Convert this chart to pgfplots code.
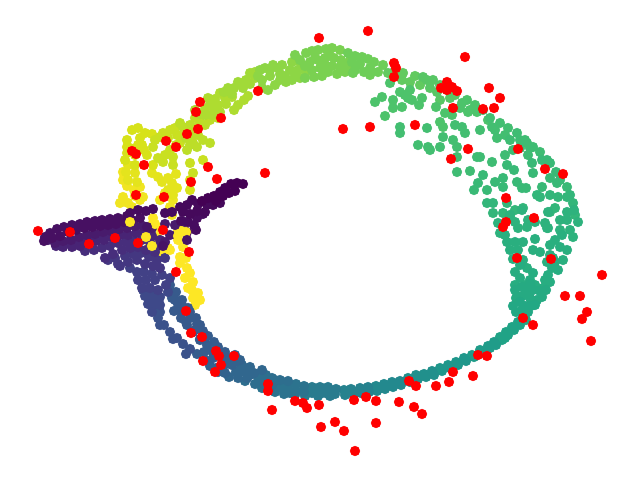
\documentclass[border=0pt]{standalone}
\usepackage{pgfplots}
\pgfplotsset{compat=1.18}
\pgfplotsset{dots/.style={scatter, only marks, mark=*, mark size=4.9pt, line width=0.4pt,
    scatter/use mapped color={draw=mapped color, fill=mapped color}, point meta=#1}}
\begin{document}
\begin{tikzpicture}
\path[use as bounding box] (0,0) rectangle (640pt,482pt);
\begin{axis}[
    anchor=south west, at={(0,0)},
    scale only axis, width=640pt, height=482pt,
    xmin=0, xmax=640, ymin=0, ymax=482, y dir=reverse,
    hide axis, clip=false,
    colormap/viridis, point meta min=0, point meta max=1,
]
% arc, coloured by position (pixel coordinates)
\addplot[dots=1.0] coordinates {(153,223)(153,218)(157,237)(150,245)(163,253)(168,248)(138,222)(145,228)(160,228)(177,233)(183,227)(178,240)(183,247)(180,257)(186,258)(180,263)(187,268)(190,273)(185,278)(193,282)(198,293)(193,298)(188,288)(200,300)(195,305)(192,290)(160,243)};
\addplot[dots=0.98] coordinates {(165,193)(160,200)(173,200)(170,207)(172,215)(123,172)(123,180)(127,186)(134,190)(140,187)(135,196)(123,197)(120,203)(128,203)(140,200)(143,197)(132,207)};
\addplot[dots=0.96] coordinates {(177,188)(173,195)(168,190)(158,177)(162,182)(152,173)(128,165)(135,173)(126,172)(128,180)(137,182)};
\addplot[dots=0.94] coordinates {(127,140)(132,130)(138,128)(145,133)(140,138)(152,134)(130,148)(138,145)(127,153)(135,155)(142,145)(125,160)(135,165)(147,155)(190,180)(190,190)(153,165)(127,147)(144,150)};
\addplot[dots=0.92] coordinates {(175,128)(170,130)(163,133)(177,135)(183,135)(168,138)(160,137)(155,140)(176,145)(170,150)(173,157)(180,143)(163,162)(173,165)(153,147)(165,155)(190,163)(193,173)(203,160)(158,158)};
\addplot[dots=0.90] coordinates {(195,118)(200,122)(190,125)(195,128)(187,130)(192,135)(198,135)(205,125)(210,120)(218,118)(183,127)(186,138)(203,140)(190,145)(210,143)(197,147)(180,123)(187,150)(193,143)};
\addplot[dots=0.88] coordinates {(232,97)(248,96)(244,100)(238,105)(220,93)(215,99)(210,104)(205,109)(218,105)(214,110)(226,104)(220,112)(234,110)(205,115)(212,115)(200,114)(225,98)(208,98)(195,110)};
\addplot[dots=0.86] coordinates {(250,73)(255,78)(246,80)(240,83)(234,88)(228,88)(238,82)(224,92)(250,84)(243,88)(232,94)(255,72)};
\addplot[dots=0.83] coordinates {(300,62)(292,62)(298,70)(306,72)(290,70)(282,65)(273,65)(265,68)(280,74)(286,82)(292,80)(275,85)(268,90)(260,70)(270,70)(262,88)(280,80)(300,78)(258,76)(278,68)(270,76)(285,76)(295,75)(262,80)};
\addplot[dots=0.80] coordinates {(340,50)(332,48)(326,49)(318,50)(312,51)(306,53)(341,60)(334,58)(325,58)(318,60)(310,62)(345,72)(337,74)(328,72)(322,76)(314,77)(305,78)(332,66)(312,70)(350,70)(295,55)(300,60)(320,68)(340,67)(350,60)(330,56)(305,66)(315,58)(345,65)(325,65)};
\addplot[dots=0.78] coordinates {(383,65)(378,72)(374,62)(368,59)(370,68)(362,57)(364,72)(355,56)(358,65)(348,53)(352,62)(353,73)(370,75)(360,64)(355,70)};
\addplot[dots=0.76] coordinates {(415,76)(410,82)(403,73)(396,76)(395,70)(388,73)(420,85)(402,80)};
\addplot[dots=0.74] coordinates {(447,90)(455,95)(440,85)(450,98)(433,80)(427,80)(437,92)(440,100)(423,77)(430,88)};
\addplot[dots=0.72] coordinates {(475,105)(467,100)(477,112)(470,110)(460,108)(462,103)(445,113)(440,122)(443,127)(436,107)(452,115)(422,98)(419,105)(385,116)(375,102)(382,97)(393,108)(393,100)(402,107)(400,92)(408,98)(410,90)(412,100)(390,83)(405,95)(468,112)(488,120)};
\addplot[dots=0.70] coordinates {(500,123)(508,128)(495,130)(505,135)(497,138)(490,118)(483,110)(492,127)(480,130)(465,133)(462,127)(455,125)(443,137)(440,147)(453,140)(457,147)(457,157)(418,145)(428,147)(430,150)(400,127)(400,133)(427,128)};
\addplot[dots=0.69] coordinates {(533,147)(540,152)(527,143)(517,133)(525,140)(505,155)(513,150)(520,148)(457,172)(470,171)(477,157)(480,157)(492,162)(528,155)(530,148)(510,140)(520,140)};
\addplot[dots=0.675] coordinates {(560,180)(567,187)(557,183)(550,178)(542,187)(533,173)(532,163)(542,160)(550,163)(547,160)(556,172)(478,183)(474,190)(487,190)(483,175)(495,182)(503,178)(503,187)(517,182)(522,188)(507,165)(514,170)(526,188)};
\addplot[dots=0.66] coordinates {(573,203)(567,197)(570,195)(558,197)(550,195)(555,208)(550,212)(540,197)(537,195)(487,203)(493,203)(493,213)(507,203)(523,208)(510,217)(503,213)(515,210)(575,215)};
\addplot[dots=0.645] coordinates {(573,237)(570,230)(578,222)(560,230)(560,220)(567,220)(548,228)(545,223)(535,222)(528,220)(518,228)(498,223)(500,233)(515,222)(510,215)(522,210)(548,212)(574,210)(567,212)(527,227)(547,228)};
\addplot[dots=0.63] coordinates {(513,259)(523,260)(510,250)(518,250)(533,250)(540,252)(515,242)(523,242)(535,239)(505,235)(507,242)(550,245)(555,240)(553,258)(547,262)(563,260)(567,250)(560,247)(562,235)(550,255)(527,268)};
\addplot[dots=0.62] coordinates {(520,265)(515,272)(520,278)(515,285)(535,285)(548,275)(552,268)(555,262)(558,270)(550,282)(543,288)(533,273)(530,280)(525,285)(545,280)};
\addplot[dots=0.61] coordinates {(516,298)(522,296)(530,298)(537,300)(542,297)(540,291)(533,290)(546,290)(515,290)(522,287)(530,284)(526,292)};
\addplot[dots=0.60] coordinates {(523,317)(526,320)(528,312)(522,310)(531,306)(516,312)(513,306)(520,302)(525,306)(535,305)};
\addplot[dots=0.58] coordinates {(500,337)(502,340)(506,332)(508,335)(512,327)(514,330)(518,322)(520,325)(505,338)};
\addplot[dots=0.55] coordinates {(472,355)(474,357)(480,350)(482,353)(488,346)(490,348)(494,342)(496,345)};
\addplot[dots=0.53] coordinates {(440,368)(442,371)(448,365)(450,368)(456,362)(458,365)(464,358)(466,361)};
\addplot[dots=0.50] coordinates {(408,378)(410,382)(416,375)(418,379)(424,374)(426,377)(432,371)(434,375)};
\addplot[dots=0.47] coordinates {(376,386)(384,384)(377,391)(385,389)(392,382)(393,387)(400,381)(401,385)(381,388)(390,385)};
\addplot[dots=0.44] coordinates {(344,390)(351,389)(345,395)(353,394)(360,388)(361,393)(368,387)(369,392)(350,392)(358,391)(365,390)};
\addplot[dots=0.41] coordinates {(312,387)(320,387)(328,387)(312,393)(320,394)(328,394)(336,389)(335,394)(316,390)(324,391)(332,391)(305,396)(318,396)(330,396)};
\addplot[dots=0.38] coordinates {(280,387)(288,388)(296,384)(296,391)(304,386)(304,392)(262,388)(275,392)(284,394)(285,384)(295,395)(290,393)};
\addplot[dots=0.36] coordinates {(258,377)(266,375)(272,378)(255,384)(264,384)(272,385)(245,381)(280,380)(288,381)(262,380)(275,380)};
\addplot[dots=0.33] coordinates {(242,365)(250,367)(245,372)(236,372)(229,377)(238,378)(247,378)(254,373)(262,370)(250,375)(240,370)};
\addplot[dots=0.31] coordinates {(229,358)(235,355)(240,360)(232,365)(224,365)(216,368)(210,366)(225,373)(218,372)(235,362)(225,358)};
\addplot[dots=0.29] coordinates {(197,354)(204,352)(212,351)(218,347)(225,352)(205,360)(213,358)(221,357)(207,345)(214,342)(200,339)(208,336)};
\addplot[dots=0.28] coordinates {(170,285)(176,292)(182,300)(188,308)(178,304)(172,298)(182,312)(190,318)(197,324)(186,322)(195,330)(203,331)(175,300)(182,305)(190,312)(196,318)(200,325)(205,338)(174,311)(181,318)(187,325)(193,332)(200,340)};
\addplot[dots=0.25] coordinates {(153,310)(158,318)(164,325)(170,332)(177,338)(183,344)(190,349)(160,312)(160,325)(173,339)(186,354)};
\addplot[dots=0.22] coordinates {(145,296)(152,297)(160,297)(148,304)(156,304)(152,312)(168,292)(160,305)(150,290)(143,290)};
\addplot[dots=0.19] coordinates {(130,268)(137,272)(144,272)(152,274)(138,280)(146,280)(155,280)(162,275)(170,278)(142,288)(150,288)(158,290)(166,285)};
\addplot[dots=0.16] coordinates {(108,260)(118,264)(125,256)(133,254)(141,253)(149,257)(157,260)(165,258)(120,266)(128,262)(137,260)(145,264)(153,266)(160,268)(115,258)};
\addplot[dots=0.13] coordinates {(85,251)(94,250)(102,248)(110,246)(118,243)(126,242)(134,241)(142,240)(150,242)(158,246)(105,258)(113,254)(122,250)(130,248)(138,247)(146,250)(155,252)};
\addplot[dots=0.10] coordinates {(63,247)(72,247)(80,246)(88,243)(96,241)(104,240)(112,237)(120,235)(128,235)(136,233)(144,232)(152,236)(160,240)(56,246)(65,243)(75,243)(83,240)(91,238)(99,237)(107,236)(115,233)};
\addplot[dots=0.07] coordinates {(55,243)(63,241)(71,240)(79,237)(87,235)(95,234)(103,232)(111,231)(119,229)(127,228)(135,226)(143,226)(152,228)(165,224)(175,225)(170,235)(165,242)(185,222)(48,240)};
\addplot[dots=0.04] coordinates {(118,218)(110,219)(102,220)(95,221)(87,222)(80,224)(72,225)(64,227)(57,229)(50,233)(45,237)(44,241)(52,238)(60,236)(68,232)(76,230)(84,228)(92,227)(100,226)(108,225)(116,224)(124,222)(132,220)(140,218)};
\addplot[dots=0.03] coordinates {(197,218)(203,214)(188,222)(194,225)(181,221)(172,212)(165,213)(153,209)(146,211)(138,210)(130,213)(127,216)(196,230)(187,232)};
\addplot[dots=0.02] coordinates {(198,204)(207,205)(192,200)(187,205)(197,211)(205,212)(220,203)(213,205)(183,212)(190,214)(180,207)};
\addplot[dots=0.0] coordinates {(243,184)(237,183)(231,184)(225,188)(235,191)(229,193)(220,192)(214,196)(223,196)(208,198)(216,201)(202,201)};
% yellow bits lying over the purple
\addplot[dots=1.0] coordinates {(146,237)(155,224)(152,246)(170,250)(178,236)(186,232)(130,222)};
\addplot[dots=0.96] coordinates {(176,174)(168,178)(172,190)(172,183)};
\addplot[dots=0.05] coordinates {(147,227)(163,246)(187,240)};
% outliers
\addplot[only marks, mark=*, mark size=4.9pt, line width=0.4pt, mark options={draw=red, fill=red}] coordinates {
(38,231)(70,232)(89,244)(115,238)(138,243)(163,230)(189,252)(176,272)(186,311)(136,195)(164,197)(191,182)(217,179)(208,167)(144,165)(132,151)(136,154)(166,141)(176,147)(187,134)(198,129)(221,118)(196,112)(200,102)(265,173)
(258,91)(319,38)(368,31)(394,63)(396,68)(394,77)(343,129)(370,127)(415,125)
(465,57)(447,82)(441,88)(447,90)(452,87)(457,91)(489,88)(500,98)(453,108)(483,109)(494,108)(468,149)(451,159)(518,149)(545,169)(563,174)(506,198)(534,218)(506,222)(503,227)
(517,258)(551,259)(602,275)(565,296)(580,296)(587,312)(582,319)(591,341)(523,318)(533,325)(478,355)(487,356)(453,372)(473,376)
(191,333)(202,337)(216,351)(219,356)(234,356)(221,365)(203,361)(215,372)(268,384)(268,391)(272,410)(295,401)(303,403)(307,408)(319,405)
(321,427)(335,422)(344,431)(355,451)(354,400)(366,397)(376,401)(376,423)(399,402)(414,407)(422,414)(409,381)(416,386)(436,386)(449,382)
};
\end{axis}
\end{tikzpicture}
\end{document}
